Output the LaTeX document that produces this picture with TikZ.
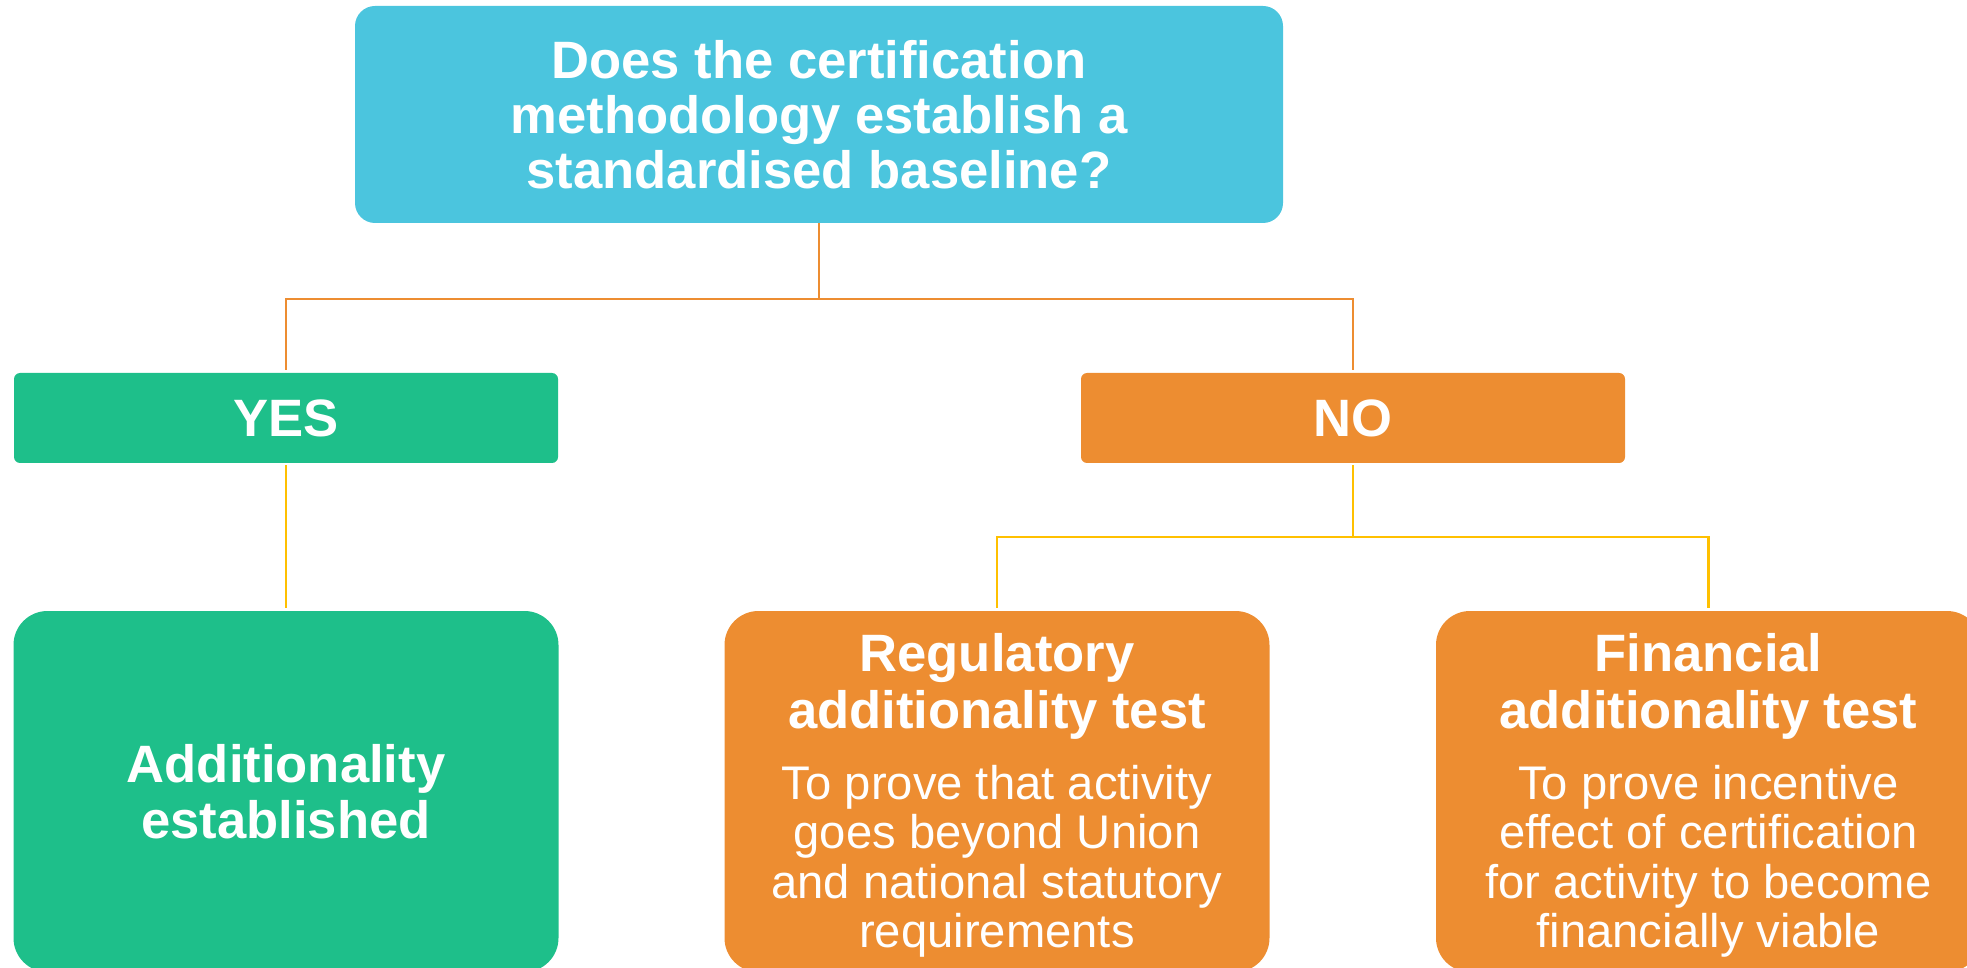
\documentclass[tikz,border=0pt]{standalone}
\usepackage{fontspec}
\setmainfont{Liberation Sans}
\definecolor{cyanbox}{HTML}{4BC5DE}
\definecolor{greenbox}{HTML}{1EBF8A}
\definecolor{orangebox}{HTML}{ED8D31}
\definecolor{goldline}{HTML}{FFC000}
\begin{document}
\begin{tikzpicture}[x=0.5pt,y=-0.5pt,
  box/.style={draw=none,inner sep=0pt,text=white,align=center},
  topbox/.style={box,fill=cyanbox,minimum width=464pt,minimum height=108.5pt,rounded corners=10pt,
     font=\bfseries\fontsize{26.3}{27.5}\selectfont},
  answer/.style={box,minimum width=272pt,minimum height=45pt,rounded corners=3pt,
     font=\bfseries\fontsize{26.3}{27.5}\selectfont},
  lowbox/.style={box,minimum width=272.5pt,minimum height=180.5pt,rounded corners=17pt},
  headtext/.style={inner sep=0pt,text=white,align=center,anchor=north,
     font=\bfseries\fontsize{26.3}{28.5}\selectfont},
  bodytext/.style={inner sep=0pt,text=white,align=center,anchor=north,
     font=\fontsize{23.6}{24.65}\selectfont},
  upline/.style={draw=orangebox,line width=1.2pt},
  lowline/.style={draw=goldline,line width=1.2pt},
  gap/.style={shorten >=1.5pt,shorten <=1pt}]
\useasboundingbox (0,0) rectangle (1967,968);
\node[topbox] (q) at (819,114.5) {Does the certification\\methodology establish a\\standardised baseline?};
\node[answer,fill=greenbox] (yes) at (286,418) {YES};
\node[answer,fill=orangebox] (no) at (1353,418) {NO};
\node[lowbox,fill=greenbox,font=\bfseries\fontsize{26.3}{27.7}\selectfont] (add) at (286,791.5) {Additionality\\established};
\node[lowbox,fill=orangebox] (reg) at (997,791.5) {};
\node[lowbox,fill=orangebox] (fin) at (1708.5,791.5) {};
\node[headtext] (reghead) at (997,633) {Regulatory\\additionality test};
\node[bodytext] (regbody) at (997,765) {To prove that activity\\goes beyond Union\\and national statutory\\requirements};
\node[headtext] (finhead) at (1708.5,633) {Financial\\additionality test};
\node[bodytext] (finbody) at (1708.5,765) {To prove incentive\\effect of certification\\for activity to become\\financially viable};
\coordinate (j1) at (819,299);
\coordinate (j2) at (1353,537);
\draw[upline] (q.south) -- (j1);
\draw[upline,shorten >=1.5pt] (j1) -| (yes.north);
\draw[upline,shorten >=1.5pt] (j1) -| (no.north);
\draw[lowline,gap] (yes.south) -- (add.north);
\draw[lowline,shorten <=1pt] (no.south) -- (j2);
\draw[lowline,shorten >=1.5pt] (j2) -| (reg.north);
\draw[lowline,shorten >=1.5pt] (j2) -| (fin.north);
\end{tikzpicture}
\end{document}
